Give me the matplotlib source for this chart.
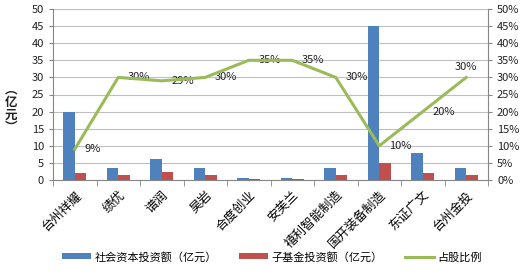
import matplotlib
matplotlib.use("Agg")
import matplotlib.pyplot as plt
import numpy as np
from matplotlib.ticker import FuncFormatter, MultipleLocator

plt.rcParams['font.family'] = ['Noto Sans CJK SC', 'DejaVu Sans']

categories = ["台州祥耀", "绩优", "谱润", "昊岩", "合度创业", "安芙兰",
              "禧利智能制造", "国开装备制造", "东证广文", "台州金投"]
social_capital = [20, 3.5, 6, 3.5, 0.7, 0.7, 3.5, 45, 8, 3.5]
sub_fund = [2, 1.5, 2.3, 1.5, 0.3, 0.3, 1.5, 5, 2, 1.5]
share_ratio = [9, 30, 29, 30, 35, 35, 30, 10, 20, 30]
ratio_labels = ["9%", "30%", "29%", "30%", "35%", "35%", "30%", "10%", "20%", "30%"]

blue = "#4F81BD"
red = "#C0504D"
green = "#9BBB59"

fig = plt.figure(figsize=(5.27, 2.76), dpi=100)
ax = fig.add_axes([53/527, 1-180/276, (488-53)/527, (180-9)/276])
ax2 = ax.twinx()

x = np.arange(len(categories))
w = 0.27
ax.bar(x - w/2, social_capital, w, color=blue, label="社会资本投资额（亿元）", zorder=3)
ax.bar(x + w/2, sub_fund, w, color=red, label="子基金投资额（亿元）", zorder=3)

ax.set_xlim(-0.5, len(categories) - 0.5)
ax.set_ylim(0, 50)
ax.yaxis.set_major_locator(MultipleLocator(5))
ax.grid(axis='y', color='#BFBFBF', linewidth=0.8, zorder=0)
ax.set_axisbelow(True)

ax2.plot(x, share_ratio, color=green, linewidth=2.2, label="占股比例", zorder=4)
ax2.set_ylim(0, 50)
ax2.yaxis.set_major_locator(MultipleLocator(5))
ax2.yaxis.set_major_formatter(FuncFormatter(lambda v, p: f"{int(v)}%"))

for i, (v, t) in enumerate(zip(share_ratio, ratio_labels)):
    if i == len(share_ratio) - 1:
        ax2.annotate(t, (x[i], v), xytext=(0, 4), textcoords='offset points',
                     ha='center', va='bottom', fontsize=8, color='#222222')
    else:
        ax2.annotate(t, (x[i], v), xytext=(7, 0), textcoords='offset points',
                     ha='left', va='center', fontsize=8, color='#222222')

for a in (ax, ax2):
    a.spines['top'].set_visible(False)
    a.spines['left'].set_color('#868686')
    a.spines['right'].set_color('#868686')
    a.spines['bottom'].set_color('#868686')
    a.tick_params(axis='y', labelsize=8, colors='#222222', length=3, color='#868686')

ax.spines['right'].set_visible(False)
ax2.spines['left'].set_visible(False)
ax2.spines['bottom'].set_visible(False)

ax.set_xticks(x)
ax.set_xticklabels(categories, rotation=45, ha='right', rotation_mode='anchor', fontsize=9)
ax.tick_params(axis='x', length=0, pad=6)
ax.set_xticks(np.arange(-0.5, len(categories), 1), minor=True)
ax.tick_params(axis='x', which='minor', length=4, color='#868686', direction='out')

# vertical unit label (stacked upright characters)
fig.text(11/527, 1-109/276, "︵\n亿\n元\n︶", ha='center', va='center', fontsize=9,
         color='#222222', fontweight='bold', linespacing=0.95, multialignment='center')

h1, l1 = ax.get_legend_handles_labels()
h2, l2 = ax2.get_legend_handles_labels()
fig.legend(h1 + h2, l1 + l2, loc='center', bbox_to_anchor=(272/527, 1-257/276), ncol=3,
           frameon=False, fontsize=8, handlelength=2.6, handleheight=0.45, columnspacing=2.0,
           handletextpad=0.3)

fig.savefig("out.png", dpi=100)
